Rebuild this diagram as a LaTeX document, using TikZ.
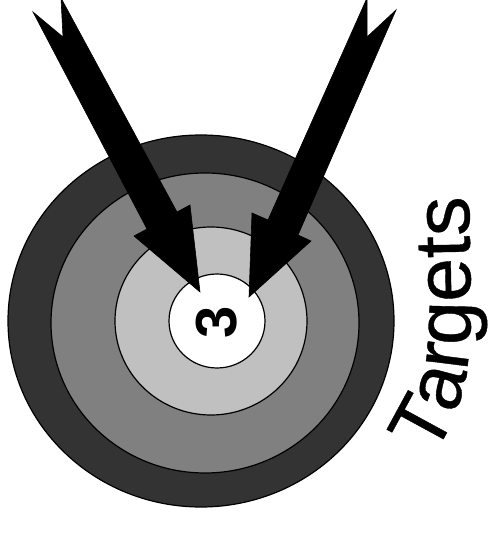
\documentclass[tikz,border=0pt]{standalone}
\usepackage{fontspec}
\setmainfont{Liberation Sans}
\newfontfamily\labelfont[FakeBold=0.5]{Liberation Sans}
\usetikzlibrary{decorations.text}
\definecolor{ringA}{HTML}{333333}
\definecolor{ringB}{HTML}{808080}
\definecolor{ringC}{HTML}{C0C0C0}
\begin{document}
\begin{tikzpicture}[x=1pt,y=1pt,
  ring/.style={draw=black,line width=1.2pt},
  dart/.style={fill=black,draw=black,line width=0.6pt,line join=miter}]
\useasboundingbox (0,0) rectangle (496,536);
\fill[white] (0,0) rectangle (496,536);
% target rings
\draw[ring,fill=ringA] (201,215) ellipse [x radius=193,y radius=186];
\draw[ring,fill=ringB] (205,213) ellipse [x radius=154,y radius=150];
\draw[ring,fill=ringC] (211,215) ellipse [x radius=96,y radius=94];
\draw[ring,fill=white] (217,215) ellipse [x radius=48,y radius=47];
\node[rotate=90,font=\fontsize{58}{58}\selectfont\bfseries] (three) at (217,214) {3};
% left arrow
\fill[dart] (61,538) -- (63,499) -- (33,524) -- (147,307) -- (134,300)
  -- (200,244) -- (190,331) -- (177,324) -- cycle;
% right arrow
\fill[dart] (367,538) -- (367,499) -- (396,526) -- (298,301) -- (311,295)
  -- (249,239) -- (252,323) -- (268,316) -- cycle;
% label
\path[decorate,decoration={text along path,text align=left,
  text={|\labelfont\fontsize{79}{79}\selectfont|Targets}}]
  (432,80) .. controls (457,112) and (471,160) .. (471,220) -- (468,390);
\end{tikzpicture}
\end{document}
